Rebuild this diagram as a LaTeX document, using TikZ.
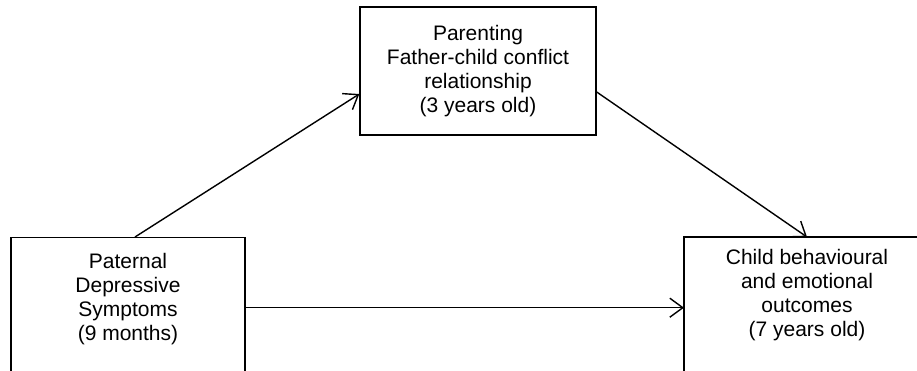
\documentclass[tikz,border=0pt]{standalone}
\usepackage{fontspec}
\setmainfont{Liberation Sans}
\usetikzlibrary{positioning,calc,arrows.meta}
\tikzset{dbox/.style={draw, line width=1.4pt, rectangle, inner sep=0pt}}
\tikzset{dtxt/.style={align=center, inner sep=0pt, font=\fontsize{21}{24}\selectfont}}
\tikzset{arr/.style={draw, line width=1.4pt, -{Straight Barb[length=13pt,width=19pt]}}}
\begin{document}
\begin{tikzpicture}[x=1pt, y=-1pt]
			\useasboundingbox (0,0) rectangle (917,370);
			\node[dbox, minimum width=234pt, minimum height=140pt, anchor=north] (D) at (128,237) {};
			\node[dtxt, below=16pt of D.north] (Dt) {Paternal\\Depressive\\Symptoms\\(9 months)};
			\node[dbox, dtxt, minimum width=236pt, minimum height=128pt] (F) at (478,71)
                {Parenting\\Father-child conflict\\relationship\\(3 years old)};
			% box runs off the page on the right
			\node[minimum width=240pt, minimum height=140pt, inner sep=0pt, anchor=north west] (C) at (684,237) {};
			\draw[line width=1.4pt] (C.north east) -| (C.south west);
			\node[dtxt, anchor=north] (Ct) at (807,249) {Child behavioural\\and emotional\\outcomes\\(7 years old)};
%
			\draw[arr] ([xshift=7pt]D.north) -- ([yshift=-23pt]F.west);
			\draw[arr] ([yshift=-21pt]F.east) -- (C.north west -| Ct.north);
			\draw[arr] (D.east) -- (D.east -| C.west);
			% \draw[arr] (D) -- (C);
		\end{tikzpicture}
\end{document}
